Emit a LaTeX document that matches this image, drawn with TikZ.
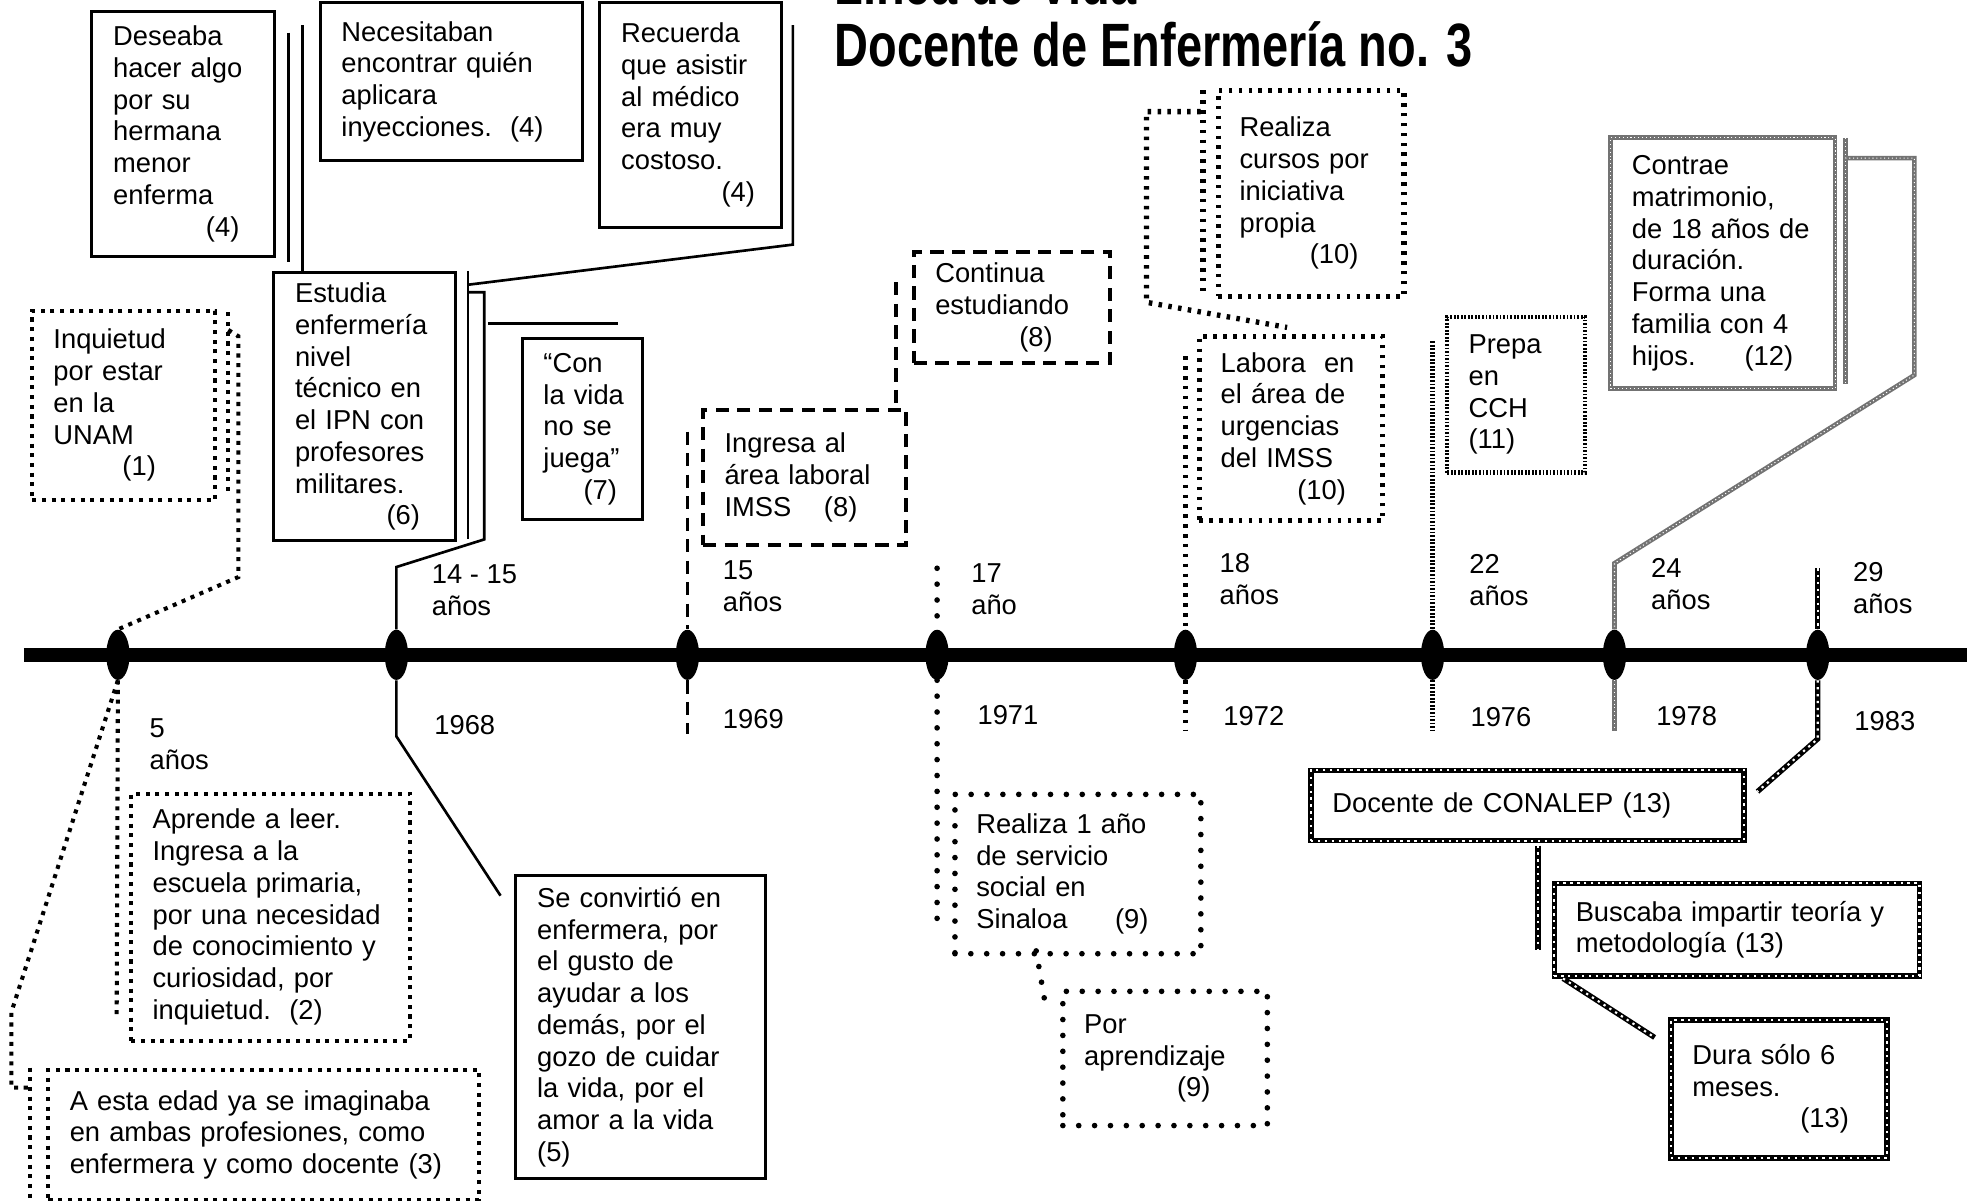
\documentclass[tikz,border=0pt]{standalone}
\usepackage{fontspec}
\setmainfont{Liberation Sans}
\newfontfamily\titlefont[FakeStretch=0.767]{Liberation Sans Bold}
\usetikzlibrary{shapes.geometric}

\begin{document}
\begin{tikzpicture}[
    x=0.25mm, y=-0.25mm,
    every node/.style={font=\fontsize{15.5}{18}\selectfont},
    ebox/.style={rectangle, anchor=north west, align=left, inner xsep=4.25mm, inner ysep=0pt},
    plainline/.style={line width=1.5pt},
    sqdotline/.style={line width=2.3pt, dash pattern=on 2.3pt off 3.2pt},
    dashline/.style={line width=2.2pt, dash pattern=on 7.5pt off 4.7pt},
    rddotline/.style={line width=3.2pt, line cap=round, dash pattern=on 0pt off 9pt},
    slashline/.style={line width=3pt, dash pattern=on 2pt off 3.6pt},
    fineline/.style={line width=2.4pt, draw=black, dash pattern=on 1pt off 1pt},
    grayline/.style={line width=2.6pt, draw=black!55, postaction={draw=white, line width=0.6pt, dash pattern=on 0.6pt off 1.6pt}},
    checkline/.style={line width=3pt, draw=black, postaction={draw=white, line width=1.2pt, dash pattern=on 1.3pt off 2.6pt}},
    plainbox/.style={ebox, draw, line width=1.7pt},
    sqdotbox/.style={ebox, draw, sqdotline},
    dashbox/.style={ebox, draw, dashline},
    rddotbox/.style={ebox, draw, rddotline},
    slashbox/.style={ebox, draw, slashline},
    finebox/.style={ebox, fineline},
    graybox/.style={ebox, grayline},
    checkbox/.style={ebox, checkline},
    tdot/.style={ellipse, fill=black, inner sep=0pt, minimum width=4.65mm, minimum height=10mm},
    lbl/.style={anchor=north west, align=left, inner sep=0pt},
    timeline/.style={line width=8.3pt}
]
\useasboundingbox (0,0) rectangle (1568,957);
\clip (0,0) rectangle (1568,957);

% Title
\node[anchor=south west, align=left, inner sep=0pt, font=\titlefont\fontsize{34.7}{35}\selectfont] (title) at (665,54) {Línea de Vida\\Docente de Enfermería no. 3};

% Timeline
\coordinate (tstart) at (19,522);
\coordinate (tend) at (1568,522);
\draw[timeline] (tstart) -- (tend);

% Dots
\node[tdot] (d1) at (94,522) {};
\node[tdot] (d2) at (316,522) {};
\node[tdot] (d3) at (548,522) {};
\node[tdot] (d4) at (747,522) {};
\node[tdot] (d5) at (945,522) {};
\node[tdot] (d6) at (1142,522) {};
\node[tdot] (d7) at (1287,522) {};
\node[tdot] (d8) at (1449,522) {};

% Ages
\node[lbl] (age1) at (119,573) {5\\años};
\node[lbl] (age2) at (344,450) {14 - 15\\años};
\node[lbl] (age3) at (576,447) {15\\años};
\node[lbl] (age4) at (774,449) {17\\año};
\node[lbl] (age5) at (972,441) {18\\años};
\node[lbl] (age6) at (1171,442) {22\\años};
\node[lbl] (age7) at (1316,445) {24\\años};
\node[lbl] (age8) at (1477,448) {29\\años};

% Years
\node[lbl] (yr2) at (346,570) {1968};
\node[lbl] (yr3) at (576,565) {1969};
\node[lbl] (yr4) at (779,562) {1971};
\node[lbl] (yr5) at (975,563) {1972};
\node[lbl] (yr6) at (1172,564) {1976};
\node[lbl] (yr7) at (1320,563) {1978};
\node[lbl] (yr8) at (1478,567) {1983};

% Boxes
\node[sqdotbox, text width=28mm, minimum height=37.75mm] (inquietud) at (24,246) {Inquietud\\por estar\\en la\\UNAM\\\hspace*{13.75mm}(1)};
\node[plainbox, text width=28mm, minimum height=48.75mm] (deseaba) at (72,8) {Deseaba\\hacer algo\\por su\\hermana\\menor\\enferma\\\hspace*{18.5mm}(4)};
\node[plainbox, text width=43.75mm, minimum height=31.5mm] (necesitaban) at (254,1) {Necesitaban\\encontrar quién\\aplicara\\inyecciones.\ \ (4)};
\node[plainbox, text width=27.75mm, minimum height=44.75mm] (recuerda) at (477,1) {Recuerda\\que asistir\\al médico\\era muy\\costoso.\\\hspace*{20mm}(4)};
\node[plainbox, text width=27.75mm, minimum height=53.5mm] (estudia) at (217,216) {Estudia\\enfermería\\nivel\\técnico en\\el IPN con\\profesores\\militares.\\\hspace*{18.25mm}(6)};
\node[plainbox, text width=15.5mm, minimum height=36mm] (conlavida) at (415,269) {“Con\\la~vida\\no~se\\juega”\\\hspace*{8mm}(7)};
\node[plainbox, text width=41.25mm, minimum height=60.25mm] (convirtio) at (410,697) {Se convirtió en\\enfermera, por\\el gusto de\\ayudar a los\\demás, por el\\gozo de cuidar\\la vida, por el\\amor a la vida\\(5)};
\node[dashbox, text width=32mm, minimum height=27mm] (ingresa) at (559,325) {Ingresa al\\área laboral\\IMSS\hspace{6.5mm}(8)};
\node[dashbox, text width=30.5mm, minimum height=22.25mm] (continua) at (727,199) {Continua\\estudiando\\\hspace*{16.75mm}(8)};
\node[rddotbox, text width=40.5mm, minimum height=31.75mm] (servicio) at (759,631) {Realiza 1 año\\de servicio\\social en\\Sinaloa\hspace{9.5mm}(9)};
\node[rddotbox, text width=32.25mm, minimum height=26.75mm] (aprendizaje) at (845,788) {Por\\aprendizaje\\\hspace*{18.5mm}(9)};
\node[slashbox, text width=28.5mm, minimum height=41mm] (cursos) at (969,70) {Realiza\\cursos por\\iniciativa\\propia\\\hspace*{14mm}(10)};
\node[slashbox, text width=28mm, minimum height=36.75mm] (labora) at (954,266) {Labora\ \ en\\el área de\\urgencias\\del IMSS\\\hspace*{15.25mm}(10)};
\node[finebox, text width=19mm, minimum height=31mm] (prepa) at (1152,251) {Prepa\\en\\CCH\\(11)};
\node[graybox, text width=36.25mm, minimum height=50mm] (contrae) at (1282,108) {Contrae\\matrimonio,\\de~18~años~de\\duración.\\Forma una\\familia con 4\\hijos.\hspace{9.75mm}(12)};
\node[checkbox, text width=77.75mm, minimum height=14mm] (conalep) at (1043,612) {Docente de CONALEP (13)};
\node[checkbox, text width=64.25mm, minimum height=18.5mm] (buscaba) at (1237,702) {Buscaba impartir teoría y\\metodología (13)};
\node[checkbox, text width=34.5mm, minimum height=27.5mm] (dura) at (1330,811) {Dura sólo 6\\meses.\\\hspace*{21.5mm}(13)};
\node[sqdotbox, text width=47mm, minimum height=49.25mm] (aprende) at (103,631) {Aprende a leer.\\Ingresa a la\\escuela primaria,\\por una necesidad\\de conocimiento y\\curiosidad, por\\inquietud.\ \ (2)};
\node[sqdotbox, text width=77.25mm, minimum height=26mm] (imaginaba) at (37,851) {A esta edad ya se imaginaba\\en ambas profesiones, como\\enfermera y como docente (3)};

% Free ends of the callout lines
\coordinate (desbarA) at (230,26);
\coordinate (desbarB) at (230,209);
\coordinate (desleg) at (241,20);
\coordinate (recleg) at (632,20);
\coordinate (recend) at (373,227);
\coordinate (estbarA) at (373,216);
\coordinate (estbarB) at (373,430);
\coordinate (estleg) at (373,233);
\coordinate (convend) at (399,714);
\coordinate (conA) at (389,258);
\coordinate (conB) at (493,258);
\coordinate (inqbarA) at (182,249);
\coordinate (inqbarB) at (182,395);
\coordinate (inqleg) at (182,263);
\coordinate (aprbar) at (93,811);
\coordinate (imgend) at (24,867);
\coordinate (imgbarA) at (24,851);
\coordinate (imgbarB) at (24,957);
\coordinate (ingbarA) at (548,344);
\coordinate (ingbarB) at (548,585);
\coordinate (conleg) at (714,225);
\coordinate (serbarA) at (747,453);
\coordinate (serbarB) at (747,733);
\coordinate (porA) at (826,758);
\coordinate (porB) at (833,799);
\coordinate (curleg) at (957,89);
\coordinate (curend) at (1026,261);
\coordinate (curbarA) at (959,72);
\coordinate (curbarB) at (959,233);
\coordinate (labbarA) at (945,284);
\coordinate (labbarB) at (945,583);
\coordinate (prebarA) at (1142,272);
\coordinate (prebarB) at (1142,583);
\coordinate (matbarA) at (1471,110);
\coordinate (matbarB) at (1471,306);
\coordinate (matleg) at (1471,126);
\coordinate (matbot) at (1287,583);
\coordinate (cnpbar) at (1449,453);
\coordinate (cnpend) at (1401,631);
\coordinate (busbarA) at (1226,674);
\coordinate (busbarB) at (1226,757);
\coordinate (duraA) at (1246,780);
\coordinate (duraB) at (1319,827);

% Solid lines
\draw[plainline] (desbarA) -- (desbarB);
\draw[plainline] (desleg) -- (desleg |- estudia.north);
\draw[plainline] (recleg) -- (632,195) -- (recend);
\draw[plainline] (estbarA) -- (estbarB);
\draw[plainline] (estleg) -- (386,233) -- (386,430) -- (316,452) -- (d2.north);
\draw[plainline] (d2.south) -- (316,587) -- (convend);
\draw[plainline] (conA) -- (conB);

% Square dotted lines
\draw[sqdotline] (inqbarA) -- (inqbarB);
\draw[sqdotline] (inqleg) -- (190,268) -- (190,460) -- (d1.north);
\draw[sqdotline] (d1.south) -- (aprbar);
\draw[sqdotline] (d1.south) -- (9,807) -- (9,867) -- (imgend);
\draw[sqdotline] (imgbarA) -- (imgbarB);

% Dashed lines
\draw[dashline] (ingbarA) -- (d3.north);
\draw[dashline] (d3.south) -- (ingbarB);
\draw[dashline] (conleg) -- (conleg |- ingresa.north);

% Round dotted lines
\draw[rddotline] (serbarA) -- (d4.north);
\draw[rddotline] (d4.south) -- (serbarB);
\draw[rddotline] (porA) -- (porB);

% Slashed lines
\draw[slashline] (curleg) -- (914,89) -- (914,241) -- (curend);
\draw[slashline] (curbarA) -- (curbarB);
\draw[slashline] (labbarA) -- (d5.north);
\draw[slashline] (d5.south) -- (labbarB);

% Fine checkered lines
\draw[fineline] (prebarA) -- (d6.north);
\draw[fineline] (d6.south) -- (prebarB);

% Gray checkered lines
\draw[grayline] (matbarA) -- (matbarB);
\draw[grayline] (matleg) -- (1526,126) -- (1526,299) -- (1287,449) -- (d7.north);
\draw[grayline] (d7.south) -- (matbot);

% Black checkered lines
\draw[checkline] (cnpbar) -- (d8.north);
\draw[checkline] (d8.south) -- (1449,589) -- (cnpend);
\draw[checkline] (busbarA) -- (busbarB);
\draw[checkline] (duraA) -- (duraB);

\end{tikzpicture}
\end{document}
